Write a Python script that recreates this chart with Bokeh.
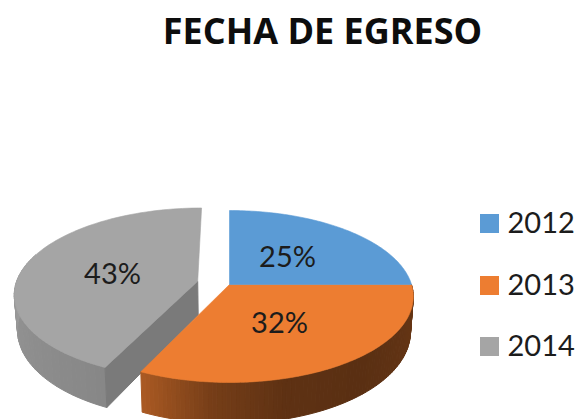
import numpy as np
from bokeh.plotting import figure
from bokeh.models import Range1d
from bokeh.core.properties import value
from bokeh.embed import file_html
from bokeh.resources import INLINE

title = "FECHA DE EGRESO"
categories = ["2012", "2013", "2014"]
shares = [25, 32, 43]
labels = ["25%", "32%", "43%"]
colors = ["#5B9BD5", "#ED7D31", "#A5A5A5"]
explode = [0.0, 0.0, 0.18]

W, H = 579, 419
FONT = "Lato"
CX, CY, R, K, C = 229.0, 284.0, 182.0, 84.3, -0.1395

p = figure(width=W, height=H, output_backend="svg", toolbar_location=None,
           x_range=Range1d(0, W), y_range=Range1d(H, 0),
           x_axis_location=None, y_axis_location=None, min_border=0,
           outline_line_color=None, background_fill_color="white",
           border_fill_color="white")
p.grid.visible = False


def top(u, v):
    d = 1 + C * v
    return CX + R * u / d, CY + K * v / d


def bottom(u, v):
    x, y = top(u, v)
    return CX + (x - CX) * 0.985, y + 34 + 7 * v


def shade(col, f):
    r, g, b = (int(col[i:i + 2], 16) for i in (1, 3, 5))
    return "#%02x%02x%02x" % (int(r * f), int(g * f), int(b * f))


SH_A = [0, 90, 140, 165, 185, 205, 205.01, 250, 285, 360]
SH_F = [.45, .45, .38, .40, .50, .72, .82, .88, 1.0, 1.0]

starts = np.cumsum([0] + shares[:-1]) / sum(shares) * 360
ends = np.cumsum(shares) / sum(shares) * 360
faces = []
for i, (a0, a1) in enumerate(zip(starts, ends)):
    mid = np.radians((a0 + a1) / 2)
    du, dv = explode[i] * np.sin(mid), -explode[i] * np.cos(mid)
    th = np.radians(np.linspace(a0, a1, 91))
    u, v = np.sin(th) + du, -np.cos(th) + dv
    faces.append((a0, a1, u, v, du, dv))

for i in [2, 1, 0]:
    a0, a1, u, v, du, dv = faces[i]
    tx, ty = top(u, v)
    bx, by = bottom(u, v)
    if a1 > 90:
        xs, ys, fc = [], [], []
        for j in range(len(u) - 1):
            a = a0 + (a1 - a0) * (j + .5) / (len(u) - 1)
            if a > 290:
                continue
            xs.append([tx[j], tx[j + 1], bx[j + 1], bx[j]])
            ys.append([ty[j], ty[j + 1], by[j + 1], by[j]])
            fc.append(shade(colors[i], float(np.interp(a, SH_A, SH_F))))
        p.patches(xs, ys, fill_color=fc, line_color=fc, line_width=1)
    if explode[i] > 0:
        ax, ay = top(np.array([du]), np.array([dv]))
        gx, gy = bottom(np.array([du]), np.array([dv]))
        p.patch([ax[0], tx[0], bx[0], gx[0]], [ay[0], ty[0], by[0], gy[0]],
                fill_color=shade(colors[i], .74), line_color=shade(colors[i], .74))
    ax, ay = top(np.array([du]), np.array([dv]))
    p.patch(np.r_[ax, tx], np.r_[ay, ty], fill_color=colors[i], line_color=colors[i], line_width=0.6)

LBL_X = [287, 279, 112]
LBL_Y = [255, 321, 272]
p.text(LBL_X, LBL_Y, text=labels, text_font=value(FONT), text_font_size="29px",
       text_color="#1c1c1c", text_align="center", text_baseline="middle")

LEG_Y = [223, 285, 346]
p.rect([489] * 3, LEG_Y, width=19, height=19, fill_color=colors, line_color=None)
p.text([507] * 3, [y - 1 for y in LEG_Y], text=categories, text_font=value(FONT), text_font_size="29px",
       text_color="#1c1c1c", text_align="left", text_baseline="middle")

p.text([322], [30], text=[title], text_font=value("Open Sans"), text_font_size="36px",
       text_font_style="bold", text_color="#0d0d0d", text_align="center", text_baseline="middle")

open("out.html", "w").write(file_html(p, INLINE))
